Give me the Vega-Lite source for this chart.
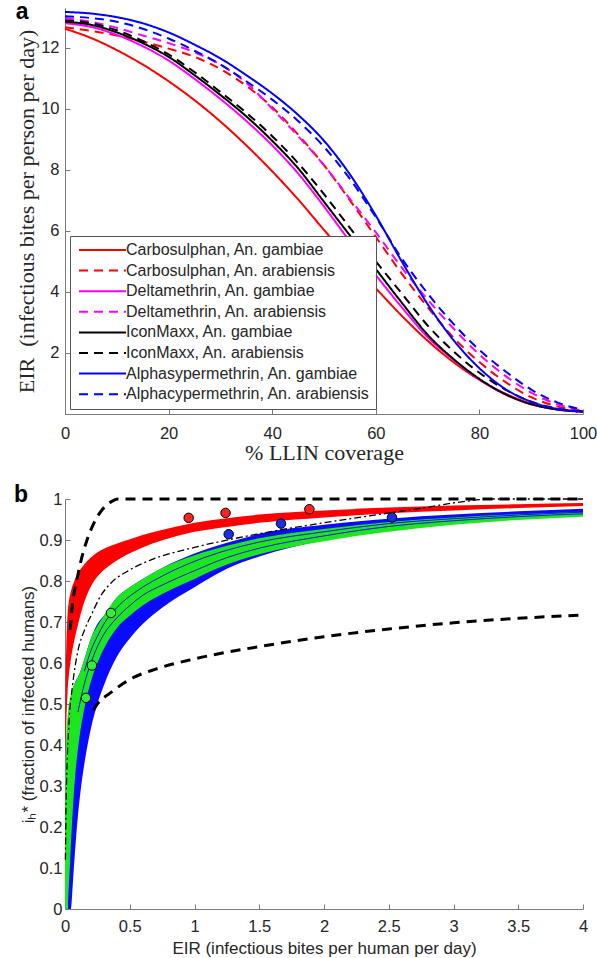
{
 "$schema": "https://vega.github.io/schema/vega-lite/v6.json",
 "padding": {"left": 14, "top": 0, "right": 0, "bottom": 0},
 "background": "white",
 "spacing": 20,
 "resolve": {"scale": {"color": "independent", "strokeDash": "independent"}, "legend": {"color": "independent", "strokeDash": "independent"}},
 "config": {
  "font": "Liberation Sans",
  "view": {"stroke": null},
  "axis": {"grid": false, "domainColor": "#7a7a7a", "tickColor": "#7a7a7a", "labelColor": "#262626", "titleColor": "#262626", "tickSize": -5, "labelFontSize": 16.5, "titleFontWeight": "normal", "labelOverlap": false, "labelFlush": false, "labelFont": "Liberation Sans"},
  "title": {"anchor": "start", "frame": "bounds", "fontSize": 23, "fontWeight": "bold", "color": "#000000", "font": "Liberation Sans"}
 },
 "datasets": {
  "la": [
   {"c":0,"cg":12.62,"ca":12.67,"dg":12.8,"da":12.97,"ig":12.85,"ia":12.9,"ag":13.17,"aa":13.03},
   {"c":5,"cg":12.32,"ca":12.55,"dg":12.68,"da":12.85,"ig":12.75,"ia":12.8,"ag":13.12,"aa":12.97},
   {"c":10,"cg":11.92,"ca":12.4,"dg":12.42,"da":12.65,"ig":12.5,"ia":12.57,"ag":13.0,"aa":12.85},
   {"c":15,"cg":11.45,"ca":12.2,"dg":12.05,"da":12.4,"ig":12.15,"ia":12.22,"ag":12.8,"aa":12.62},
   {"c":20,"cg":10.9,"ca":11.97,"dg":11.58,"da":12.15,"ig":11.7,"ia":11.78,"ag":12.5,"aa":12.3},
   {"c":25,"cg":10.28,"ca":11.7,"dg":10.98,"da":11.85,"ig":11.1,"ia":11.2,"ag":12.1,"aa":11.9},
   {"c":30,"cg":9.58,"ca":11.3,"dg":10.32,"da":11.45,"ig":10.45,"ia":10.55,"ag":11.65,"aa":11.45},
   {"c":35,"cg":8.8,"ca":10.75,"dg":9.6,"da":10.85,"ig":9.75,"ia":9.87,"ag":11.1,"aa":10.9},
   {"c":40,"cg":7.95,"ca":10.05,"dg":8.8,"da":10.0,"ig":8.95,"ia":9.1,"ag":10.5,"aa":10.3},
   {"c":45,"cg":7.03,"ca":9.15,"dg":7.88,"da":9.1,"ig":8.05,"ia":8.22,"ag":9.8,"aa":9.6},
   {"c":50,"cg":6.03,"ca":8.15,"dg":6.8,"da":8.15,"ig":6.95,"ia":7.2,"ag":8.95,"aa":8.75},
   {"c":55,"cg":5.05,"ca":7.0,"dg":5.65,"da":7.05,"ig":5.85,"ia":6.1,"ag":7.85,"aa":7.7},
   {"c":60,"cg":4.12,"ca":5.8,"dg":4.55,"da":5.95,"ig":4.75,"ia":5.0,"ag":6.5,"aa":6.45},
   {"c":65,"cg":3.22,"ca":4.6,"dg":3.5,"da":4.8,"ig":3.65,"ia":3.95,"ag":5.0,"aa":5.1},
   {"c":70,"cg":2.4,"ca":3.5,"dg":2.52,"da":3.75,"ig":2.6,"ia":2.9,"ag":3.6,"aa":3.95},
   {"c":75,"cg":1.7,"ca":2.5,"dg":1.78,"da":2.8,"ig":1.8,"ia":2.05,"ag":2.42,"aa":2.95},
   {"c":80,"cg":1.12,"ca":1.7,"dg":1.13,"da":1.95,"ig":1.15,"ia":1.35,"ag":1.5,"aa":2.1},
   {"c":85,"cg":0.67,"ca":1.05,"dg":0.64,"da":1.25,"ig":0.65,"ia":0.8,"ag":0.82,"aa":1.4},
   {"c":90,"cg":0.34,"ca":0.55,"dg":0.32,"da":0.7,"ig":0.32,"ia":0.4,"ag":0.4,"aa":0.8},
   {"c":95,"cg":0.15,"ca":0.25,"dg":0.15,"da":0.32,"ig":0.15,"ia":0.18,"ag":0.17,"aa":0.38},
   {"c":100,"cg":0.07,"ca":0.09,"dg":0.08,"da":0.11,"ig":0.08,"ia":0.09,"ag":0.08,"aa":0.13}
  ],
  "names": [
   {"k":"cg","s":"Carbosulphan, An. gambiae"},
   {"k":"ca","s":"Carbosulphan, An. arabiensis"},
   {"k":"dg","s":"Deltamethrin, An. gambiae"},
   {"k":"da","s":"Deltamethrin, An. arabiensis"},
   {"k":"ig","s":"IconMaxx, An. gambiae"},
   {"k":"ia","s":"IconMaxx, An. arabiensis"},
   {"k":"ag","s":"Alphasypermethrin, An. gambiae"},
   {"k":"aa","s":"Alphacypermethrin, An. arabiensis"}
  ],
  "blueband": [
   {"E":0.02,"v":0,"v2":0.3},{"E":0.03,"v":0,"v2":0.45},{"E":0.046,"v":0,"v2":0.5},{"E":0.06,"v":0.06,"v2":0.53},
   {"E":0.075,"v":0.13,"v2":0.55},{"E":0.1,"v":0.228,"v2":0.565},{"E":0.125,"v":0.3,"v2":0.585},{"E":0.15,"v":0.355,"v2":0.61},
   {"E":0.2,"v":0.44,"v2":0.66},{"E":0.25,"v":0.5,"v2":0.695},{"E":0.3,"v":0.545,"v2":0.715},{"E":0.4,"v":0.615,"v2":0.76},
   {"E":0.5,"v":0.66,"v2":0.785},{"E":0.6,"v":0.695,"v2":0.805},{"E":0.75,"v":0.735,"v2":0.832},{"E":1.0,"v":0.785,"v2":0.867},
   {"E":1.25,"v":0.83,"v2":0.893},{"E":1.5,"v":0.86,"v2":0.915},{"E":2.0,"v":0.9,"v2":0.937},{"E":2.5,"v":0.925,"v2":0.952},
   {"E":3.0,"v":0.943,"v2":0.962},{"E":3.5,"v":0.955,"v2":0.97},{"E":4.0,"v":0.963,"v2":0.976}
  ],
  "greenband": [
   {"E":0,"v":0,"v2":0.05},{"E":0.003,"v":0,"v2":0.3},{"E":0.01,"v":0,"v2":0.42},{"E":0.02,"v":0,"v2":0.47},
   {"E":0.03,"v":0.06,"v2":0.5},{"E":0.04,"v":0.12,"v2":0.515},{"E":0.06,"v":0.24,"v2":0.54},{"E":0.08,"v":0.33,"v2":0.553},
   {"E":0.1,"v":0.39,"v2":0.565},{"E":0.15,"v":0.49,"v2":0.61},{"E":0.2,"v":0.555,"v2":0.66},{"E":0.25,"v":0.6,"v2":0.69},
   {"E":0.3,"v":0.635,"v2":0.715},{"E":0.4,"v":0.685,"v2":0.76},{"E":0.5,"v":0.715,"v2":0.785},{"E":0.6,"v":0.74,"v2":0.805},
   {"E":0.75,"v":0.768,"v2":0.832},{"E":1.0,"v":0.805,"v2":0.863},{"E":1.25,"v":0.84,"v2":0.886},{"E":1.5,"v":0.865,"v2":0.904},
   {"E":2.0,"v":0.897,"v2":0.927},{"E":2.5,"v":0.92,"v2":0.944},{"E":3.0,"v":0.937,"v2":0.955},{"E":3.5,"v":0.949,"v2":0.963},
   {"E":4.0,"v":0.957,"v2":0.968}
  ],
  "redband": [
   {"E":0.002,"v":0.37,"v2":0.45},{"E":0.005,"v":0.4,"v2":0.56},{"E":0.01,"v":0.45,"v2":0.64},{"E":0.02,"v":0.53,"v2":0.72},
   {"E":0.03,"v":0.57,"v2":0.75},{"E":0.046,"v":0.61,"v2":0.775},{"E":0.072,"v":0.655,"v2":0.8},{"E":0.098,"v":0.69,"v2":0.818},
   {"E":0.135,"v":0.735,"v2":0.835},{"E":0.175,"v":0.77,"v2":0.85},{"E":0.225,"v":0.8,"v2":0.864},{"E":0.278,"v":0.82,"v2":0.875},
   {"E":0.355,"v":0.84,"v2":0.886},{"E":0.484,"v":0.865,"v2":0.9},{"E":0.6,"v":0.882,"v2":0.912},{"E":0.74,"v":0.898,"v2":0.924},
   {"E":1.0,"v":0.92,"v2":0.942},{"E":1.25,"v":0.932,"v2":0.953},{"E":1.5,"v":0.942,"v2":0.962},{"E":2.0,"v":0.955,"v2":0.972},
   {"E":2.5,"v":0.965,"v2":0.979},{"E":3.0,"v":0.972,"v2":0.984},{"E":3.5,"v":0.978,"v2":0.987},{"E":4.0,"v":0.983,"v2":0.99}
  ],
  "blines": [
   {"id":"A","E":0.1,"v":0.48},{"id":"A","E":0.15,"v":0.55},{"id":"A","E":0.2,"v":0.6},{"id":"A","E":0.25,"v":0.64},{"id":"A","E":0.3,"v":0.67},
   {"id":"A","E":0.4,"v":0.71},{"id":"A","E":0.5,"v":0.74},{"id":"A","E":0.6,"v":0.765},{"id":"A","E":0.75,"v":0.79},{"id":"A","E":1.0,"v":0.825},
   {"id":"A","E":1.25,"v":0.857},{"id":"A","E":1.5,"v":0.88},{"id":"A","E":2.0,"v":0.91},{"id":"A","E":2.5,"v":0.933},{"id":"A","E":3.0,"v":0.947},
   {"id":"A","E":3.5,"v":0.957},{"id":"A","E":4.0,"v":0.964},
   {"id":"B","E":0.15,"v":0.58},{"id":"B","E":0.2,"v":0.63},{"id":"B","E":0.25,"v":0.665},{"id":"B","E":0.3,"v":0.695},{"id":"B","E":0.4,"v":0.735},
   {"id":"B","E":0.5,"v":0.763},{"id":"B","E":0.6,"v":0.785},{"id":"B","E":0.75,"v":0.812},{"id":"B","E":1.0,"v":0.848},{"id":"B","E":1.25,"v":0.875},
   {"id":"B","E":1.5,"v":0.895},{"id":"B","E":2.0,"v":0.92},{"id":"B","E":2.5,"v":0.94},{"id":"B","E":3.0,"v":0.952},{"id":"B","E":3.5,"v":0.961},
   {"id":"B","E":4.0,"v":0.968}
  ],
  "dashed": [
   {"id":"u","E":0.04,"v":0.68},{"id":"u","E":0.06,"v":0.749},{"id":"u","E":0.09,"v":0.8},{"id":"u","E":0.124,"v":0.85},{"id":"u","E":0.17,"v":0.9},
   {"id":"u","E":0.226,"v":0.943},{"id":"u","E":0.29,"v":0.975},{"id":"u","E":0.355,"v":0.993},{"id":"u","E":0.41,"v":1.0},{"id":"u","E":4.0,"v":1.0},
   {"id":"l","E":0.22,"v":0.485},{"id":"l","E":0.25,"v":0.5},{"id":"l","E":0.35,"v":0.527},{"id":"l","E":0.5,"v":0.56},{"id":"l","E":0.7,"v":0.585},
   {"id":"l","E":1.0,"v":0.61},{"id":"l","E":1.5,"v":0.64},{"id":"l","E":2.0,"v":0.664},{"id":"l","E":2.5,"v":0.683},{"id":"l","E":3.0,"v":0.698},
   {"id":"l","E":3.5,"v":0.709},{"id":"l","E":4.0,"v":0.717}
  ],
  "dashdot": [
   {"E":0.003,"v":0.12},{"E":0.008,"v":0.25},{"E":0.015,"v":0.34},{"E":0.03,"v":0.45},{"E":0.06,"v":0.55},{"E":0.1,"v":0.63},
   {"E":0.15,"v":0.68},{"E":0.2,"v":0.715},{"E":0.278,"v":0.765},{"E":0.355,"v":0.795},{"E":0.5,"v":0.827},{"E":0.66,"v":0.851},
   {"E":1.0,"v":0.882},{"E":1.3,"v":0.903},{"E":1.67,"v":0.925},{"E":2.0,"v":0.942},{"E":2.44,"v":0.963},{"E":2.8,"v":0.98},
   {"E":3.06,"v":0.993},{"E":3.3,"v":1.0},{"E":4.0,"v":1.0}
  ],
  "ptsr": [{"E":0.955,"v":0.954},{"E":1.24,"v":0.966},{"E":1.887,"v":0.975}],
  "ptsb": [{"E":1.264,"v":0.914},{"E":1.668,"v":0.94},{"E":2.525,"v":0.955}],
  "ptsg": [{"E":0.162,"v":0.515},{"E":0.208,"v":0.594},{"E":0.355,"v":0.722}]
 },
 "vconcat": [
  {
   "width": 518,
   "height": 406,
   "title": {"text": "a", "offset": -16},
   "data": {"name": "la"},
   "transform": [
    {"fold": ["cg","ca","dg","da","ig","ia","ag","aa"], "as": ["k","v"]},
    {"lookup": "k", "from": {"data": {"name": "names"}, "key": "k", "fields": ["s"]}}
   ],
   "mark": {"type": "line", "strokeWidth": 2, "interpolate": "monotone"},
   "encoding": {
    "x": {"field": "c", "type": "quantitative", "scale": {"domain": [0,100], "nice": false},
          "axis": {"values": [0,20,40,60,80,100], "title": "% LLIN coverage", "titleFont": "Liberation Serif", "titleFontSize": 22, "labelPadding": 16, "titlePadding": 1}},
    "y": {"field": "v", "type": "quantitative", "scale": {"domain": [0,13.3], "nice": false},
          "axis": {"values": [2,4,6,8,10,12], "title": "EIR\u00a0\u00a0(infectious bites per person per day)", "titleFont": "Liberation Serif", "titleFontSize": 22, "labelPadding": 11, "titlePadding": 2}},
    "color": {"field": "s", "type": "nominal",
      "scale": {"domain": ["Carbosulphan, An. gambiae","Carbosulphan, An. arabiensis","Deltamethrin, An. gambiae","Deltamethrin, An. arabiensis","IconMaxx, An. gambiae","IconMaxx, An. arabiensis","Alphasypermethrin, An. gambiae","Alphacypermethrin, An. arabiensis"],
                "range": ["#ff0000","#ff0000","#ff00ff","#ff00ff","#000000","#000000","#0000ff","#0000ff"]},
      "legend": {"title": null, "orient": "bottom-left", "offset": 5, "padding": 6, "strokeColor": "#555555", "fillColor": "#ffffff", "labelFontSize": 16, "labelColor": "#262626", "labelFont": "Liberation Sans", "symbolType": "M-1,0H8.4", "symbolSize": 100, "symbolStrokeWidth": 2, "labelOffset": 34, "rowPadding": 4.6, "labelLimit": 400}},
    "strokeDash": {"field": "s", "type": "nominal",
      "scale": {"domain": ["Carbosulphan, An. gambiae","Carbosulphan, An. arabiensis","Deltamethrin, An. gambiae","Deltamethrin, An. arabiensis","IconMaxx, An. gambiae","IconMaxx, An. arabiensis","Alphasypermethrin, An. gambiae","Alphacypermethrin, An. arabiensis"],
                "range": [[1,0],[9,6],[1,0],[9,6],[1,0],[9,6],[1,0],[9,6]]},
      "legend": {"title": null, "orient": "bottom-left", "offset": 5, "padding": 6, "strokeColor": "#555555", "fillColor": "#ffffff", "labelFontSize": 16, "labelColor": "#262626", "labelFont": "Liberation Sans", "symbolType": "M-1,0H8.4", "symbolSize": 100, "symbolStrokeWidth": 2, "labelOffset": 34, "rowPadding": 4.6, "labelLimit": 400}}
   }
  },
  {
   "width": 518,
   "height": 410,
   "title": {"text": "b", "offset": -16, "dx": -5},
   "encoding": {
    "x": {"field": "E", "type": "quantitative", "scale": {"domain": [0,4], "nice": false},
          "axis": {"values": [0,0.5,1,1.5,2,2.5,3,3.5,4], "format": "~g", "title": "EIR (infectious bites per human per day)", "titleFontSize": 17, "labelPadding": 14, "titlePadding": 6}},
    "y": {"field": "v", "type": "quantitative", "scale": {"domain": [0,1], "nice": false},
          "axis": {"values": [0,0.1,0.2,0.3,0.4,0.5,0.6,0.7,0.8,0.9,1], "format": "~g", "title": "iₕ* (fraction of infected humans)", "titleFontSize": 17, "labelPadding": 8, "titlePadding": 2}}
   },
   "layer": [
    {"data": {"name": "blueband"}, "mark": {"type": "area", "color": "#0a0aff", "interpolate": "monotone"}, "encoding": {"y2": {"field": "v2"}}},
    {"data": {"name": "greenband"}, "mark": {"type": "area", "color": "#1ee61e", "interpolate": "monotone"}, "encoding": {"y2": {"field": "v2"}}},
    {"data": {"name": "blines"}, "mark": {"type": "line", "color": "#1010ee", "strokeWidth": 1, "interpolate": "monotone"}, "encoding": {"detail": {"field": "id"}}},
    {"data": {"name": "redband"}, "mark": {"type": "area", "color": "#ff0000", "interpolate": "monotone"}, "encoding": {"y2": {"field": "v2"}}},
    {"data": {"name": "dashdot"}, "mark": {"type": "line", "color": "#000000", "strokeWidth": 1.3, "strokeDash": [7,3,2,3], "interpolate": "monotone"}, "encoding": {}},
    {"data": {"name": "dashed"}, "mark": {"type": "line", "color": "#000000", "strokeWidth": 3, "strokeDash": [10,7], "interpolate": "monotone"}, "encoding": {"detail": {"field": "id"}}},
    {"data": {"name": "ptsr"}, "mark": {"type": "point", "filled": true, "size": 90, "fill": "#ff2020", "stroke": "#000000", "strokeWidth": 1, "opacity": 1}},
    {"data": {"name": "ptsb"}, "mark": {"type": "point", "filled": true, "size": 90, "fill": "#1a2ee6", "stroke": "#000000", "strokeWidth": 1, "opacity": 1}},
    {"data": {"name": "ptsg"}, "mark": {"type": "point", "filled": true, "size": 90, "fill": "#33ee33", "stroke": "#000000", "strokeWidth": 1, "opacity": 1}}
   ]
  }
 ]
}
